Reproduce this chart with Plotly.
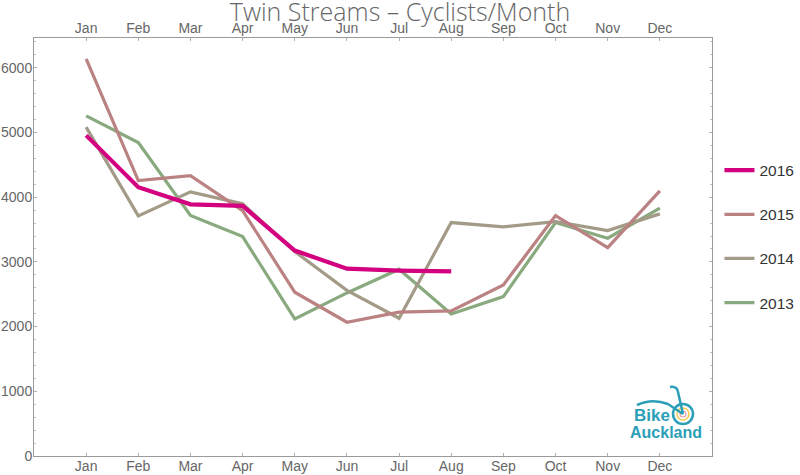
import plotly.graph_objects as go

months = ["Jan", "Feb", "Mar", "Apr", "May", "Jun", "Jul", "Aug", "Sep", "Oct", "Nov", "Dec"]
month_pos = list(range(1, 13))

y2016 = [4955, 4155, 3890, 3865, 3175, 2895, 2866, 2852]
y2015 = [6139, 4257, 4334, 3793, 2531, 2067, 2222, 2242, 2644, 3716, 3221, 4098]
y2014 = [5083, 3711, 4082, 3897, 3159, 2560, 2129, 3608, 3541, 3623, 3484, 3742]
y2013 = [5257, 4845, 3716, 3391, 2118, 2520, 2887, 2196, 2464, 3608, 3366, 3830]

series = [
    ("2013", y2013, "#88AA7E", 3.2, 4),
    ("2014", y2014, "#A39B87", 3.2, 3),
    ("2015", y2015, "#BA8282", 3.2, 2),
    ("2016", y2016, "#D3007F", 4.2, 1),
]

FONT = "Liberation Sans"
GREY = "#666666"

fig = go.Figure()
for name, vals, color, w, rank in series:
    fig.add_trace(go.Scatter(
        x=month_pos[:len(vals)], y=vals, mode="lines", name=name,
        line=dict(color=color, width=w), legendgroup=name, legendrank=rank,
    ))
# invisible trace to activate top axis
fig.add_trace(go.Scatter(x=[1], y=[0], xaxis="x2", mode="markers",
                         marker=dict(opacity=0), showlegend=False, hoverinfo="skip"))

axis_common = dict(
    showgrid=False, zeroline=False, showline=True, linecolor="#9a9a9a", linewidth=1,
    ticks="inside", ticklen=3, tickcolor="#b0b0b0", automargin=False,
)

fig.update_layout(
    width=800, height=475,
    margin=dict(l=34, r=88, t=38, b=19, autoexpand=False),
    plot_bgcolor="white", paper_bgcolor="white",
    title=dict(text="Twin Streams \u2013 Cyclists/Month", x=0.5, xanchor="center",
               yref="container", y=1 - 12 / 475, yanchor="middle", pad=dict(t=0, b=0),
               font=dict(family="Open Sans", size=25, color=GREY, weight=300)),
    xaxis=dict(range=[0, 13], tickvals=month_pos, ticktext=months, ticklabelstandoff=-3,
               tickfont=dict(family=FONT, size=14, color=GREY), **axis_common),
    xaxis2=dict(range=[0, 13], tickvals=month_pos, ticktext=months, overlaying="x",
                side="top", anchor="y", ticklabelstandoff=-2,
                tickfont=dict(family=FONT, size=14, color=GREY), **axis_common),
    yaxis=dict(range=[0, 6460], tickvals=[0, 1000, 2000, 3000, 4000, 5000, 6000],
               minor=dict(dtick=200, ticks="inside", ticklen=2, tickcolor="#c0c0c0"),
               mirror="ticks", ticklabelstandoff=-2,
               tickfont=dict(family=FONT, size=14, color=GREY), **axis_common),
    showlegend=True,
    legend=dict(x=1.011, xanchor="left", y=0.525, yanchor="middle",
                traceorder="grouped", tracegroupgap=21,
                font=dict(family=FONT, size=15.5, color="#333333"),
                itemwidth=30, bgcolor="rgba(0,0,0,0)"),
)

# Bike Auckland logo (approximation)
TEAL = "#2B9FB7"
def px(x):
    return (x - 34) / 678
def py(y):
    return (456 - y) / 418

fig.add_annotation(text="<b>Bike</b>", xref="paper", yref="paper", x=px(632), y=py(415),
                   xanchor="left", yanchor="middle", showarrow=False,
                   font=dict(family=FONT, size=17, color=TEAL))
fig.add_annotation(text="<b>Auckland</b>", xref="paper", yref="paper", x=px(628), y=py(432),
                   xanchor="left", yanchor="middle", showarrow=False,
                   font=dict(family=FONT, size=16, color=TEAL))
fig.add_shape(type="circle", xref="paper", yref="paper",
              x0=px(673), x1=px(693), y0=py(424), y1=py(404),
              line=dict(color=TEAL, width=2.5))
fig.add_shape(type="circle", xref="paper", yref="paper",
              x0=px(677), x1=px(689), y0=py(420), y1=py(408),
              line=dict(color="#F2C94C", width=1.5))
fig.add_shape(type="circle", xref="paper", yref="paper",
              x0=px(680), x1=px(686), y0=py(417), y1=py(411),
              line=dict(color="#E8A0B0", width=1.2))
fig.add_shape(type="path", xref="paper", yref="paper",
              path="M %f %f Q %f %f %f %f L %f %f" % (
                  px(637), py(405), px(652), py(398), px(668), py(404), px(683), py(414)),
              line=dict(color=TEAL, width=2.5))
fig.add_shape(type="path", xref="paper", yref="paper",
              path="M %f %f L %f %f Q %f %f %f %f" % (
                  px(683), py(414), px(678), py(392), px(677), py(386), px(670), py(387)),
              line=dict(color=TEAL, width=2.5))

fig.write_html("out.html", config={"displayModeBar": False},
               post_script="document.body.style.margin='0';document.body.style.overflow='hidden';")
